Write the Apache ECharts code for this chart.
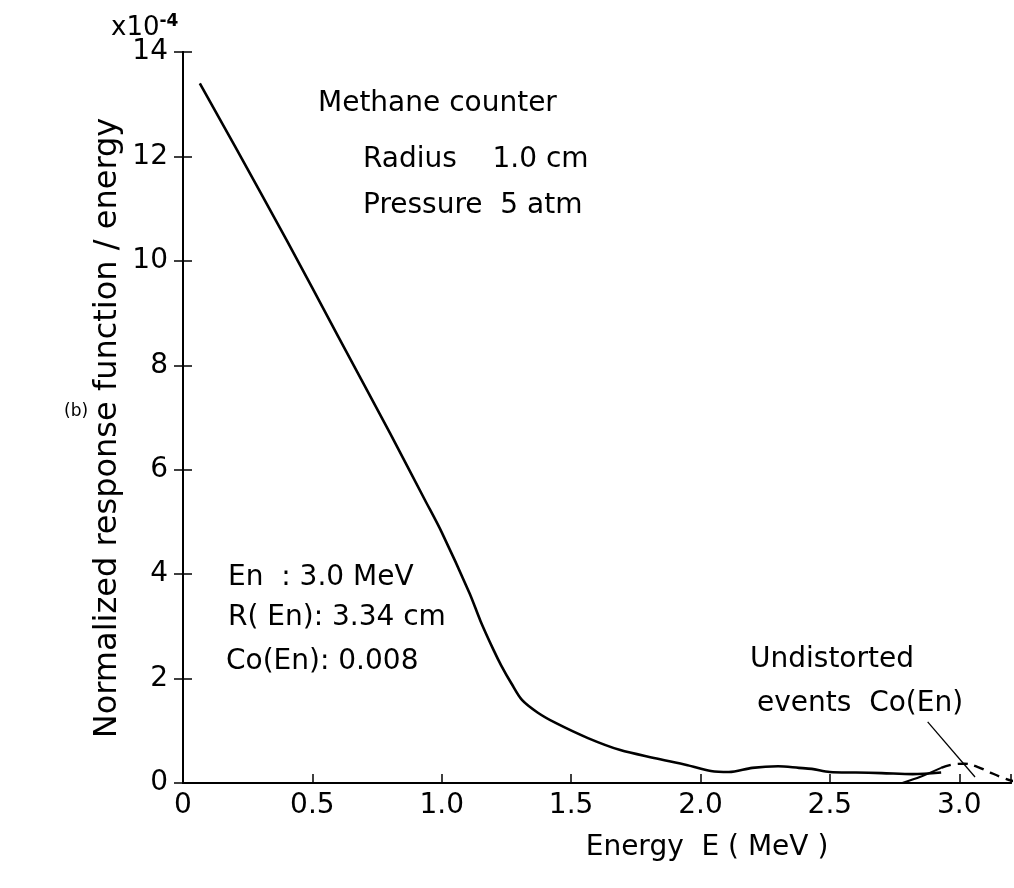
<!DOCTYPE html>
<html>
<head>
<meta charset="utf-8">
<script src="https://cdn.jsdelivr.net/npm/echarts@6/dist/echarts.min.js"></script>
<style>
html,body{margin:0;padding:0;background:#fff;}
#chart{width:1014px;height:888px;}
</style>
</head>
<body>
<div id="chart"></div>
<script>
// ---- data ----
const energy = [0.065, 0.2, 0.4, 0.6, 0.8, 0.935, 1.0, 1.107, 1.15, 1.2, 1.23, 1.27, 1.31, 1.37, 1.44, 1.565, 1.69, 1.82, 1.95, 2.04, 2.11, 2.2, 2.3, 2.38, 2.43, 2.5, 2.6, 2.7, 2.82, 2.93];
const response = [13.4, 12.2, 10.4, 8.55, 6.7, 5.42, 4.8, 3.64, 3.1, 2.55, 2.25, 1.9, 1.59, 1.35, 1.15, 0.86, 0.63, 0.48, 0.34, 0.23, 0.21, 0.29, 0.32, 0.29, 0.27, 0.21, 0.2, 0.19, 0.17, 0.2];
const coRiseEnergy = [2.78, 2.85, 2.93];
const coRiseValue = [0.0, 0.12, 0.29];
const coEnergy = [2.93, 2.98, 3.02, 3.07, 3.12, 3.18, 3.22];
const coValue = [0.29, 0.36, 0.37, 0.31, 0.2, 0.08, 0.02];
const pointerFrom = [2.878, 1.17];
const pointerTo = [3.061, 0.115];
const xTicks = [0, 0.5, 1.0, 1.5, 2.0, 2.5, 3.0];
const yTicks = [0, 2, 4, 6, 8, 10, 12, 14];

const FONT = '"DejaVu Sans"';
const zip = (a, b) => a.map((v, i) => [v, b[i]]);

const chart = echarts.init(document.getElementById('chart'), null, {renderer: 'canvas'});
const txt = (text, x, y, size, align, rot) => ({
  type: 'text', x: x, y: y, rotation: rot || 0,
  style: {text: text, fill: '#000', font: size + 'px ' + FONT, verticalAlign: 'middle', align: align || 'left'}
});

chart.setOption({
  animation: false,
  backgroundColor: '#fff',
  grid: {left: 183, top: 52, width: 838, height: 731},
  xAxis: [{
    type: 'value', min: 0, max: 3.2, interval: 0.5, position: 'bottom',
    axisLine: {show: true, lineStyle: {color: '#000', width: 2}},
    axisTick: {show: true, inside: true, length: 9, lineStyle: {color: '#000', width: 1.5}},
    splitLine: {show: false},
    axisLabel: {
      margin: 9, color: '#000', fontFamily: FONT, fontSize: 28,
      formatter: v => xTicks.indexOf(v) >= 0 ? (v === 0 ? '0' : v.toFixed(1)) : ''
    }
  }, {
    type: 'value', min: 0, max: 3.2, position: 'top',
    axisLine: {show: true, lineStyle: {color: '#000', width: 2}},
    axisTick: {show: false}, axisLabel: {show: false}, splitLine: {show: false}
  }],
  yAxis: [{
    type: 'value', min: 0, max: 14, interval: 2, position: 'left',
    axisLine: {show: true, lineStyle: {color: '#000', width: 2}},
    axisTick: {show: true, inside: true, length: 9, lineStyle: {color: '#000', width: 1.5}},
    splitLine: {show: false},
    axisLabel: {
      margin: 15, color: '#000', fontFamily: FONT, fontSize: 28,
      formatter: v => yTicks.indexOf(v) >= 0 ? String(v) : ''
    }
  }, {
    type: 'value', min: 0, max: 14, interval: 2, position: 'right',
    axisLine: {show: true, lineStyle: {color: '#000', width: 2}},
    axisTick: {show: true, inside: true, length: 9, lineStyle: {color: '#000', width: 1.5}},
    axisLabel: {show: false}, splitLine: {show: false}
  }],
  series: [{
    name: 'Response', type: 'line', smooth: 0.3, showSymbol: false,
    data: zip(energy, response),
    lineStyle: {color: '#000', width: 2.6}
  }, {
    name: 'Co rise', type: 'line', smooth: 0.3, showSymbol: false,
    data: zip(coRiseEnergy, coRiseValue),
    lineStyle: {color: '#000', width: 2}
  }, {
    name: 'Co(En)', type: 'line', smooth: 0.4, showSymbol: false,
    data: zip(coEnergy, coValue),
    lineStyle: {color: '#000', width: 2.4, type: [10, 7]},
    markLine: {
      silent: true, symbol: ['none', 'none'],
      lineStyle: {color: '#000', width: 1.3, type: 'solid'},
      label: {show: false},
      data: [[{coord: pointerFrom}, {coord: pointerTo}]]
    }
  }],
  graphic: [
    {type: 'text', x: 111, y: 28, style: {
      text: '{a|x10}{b|-4}', verticalAlign: 'middle', align: 'left',
      rich: {
        a: {font: '26px ' + FONT, fill: '#000'},
        b: {font: 'bold 17px ' + FONT, fill: '#000', padding: [0, 0, 12, 0]}
      }
    }},
    txt('Normalized response function / energy', 108, 428, 32, 'center', Math.PI / 2),
    txt('Energy  E ( MeV )', 707, 848, 28, 'center'),
    txt('(b)', 64, 412, 17),
    txt('Methane counter', 318, 104, 28),
    txt('Radius    1.0 cm', 363, 160, 28),
    txt('Pressure  5 atm', 363, 206, 28),
    txt('En  : 3.0 MeV', 228, 578, 28),
    txt('R( En): 3.34 cm', 228, 618, 28),
    txt('Co(En): 0.008', 226, 662, 28),
    txt('Undistorted', 750, 660, 28),
    txt('events  Co(En)', 757, 704, 28)
  ]
});
</script>
</body>
</html>
